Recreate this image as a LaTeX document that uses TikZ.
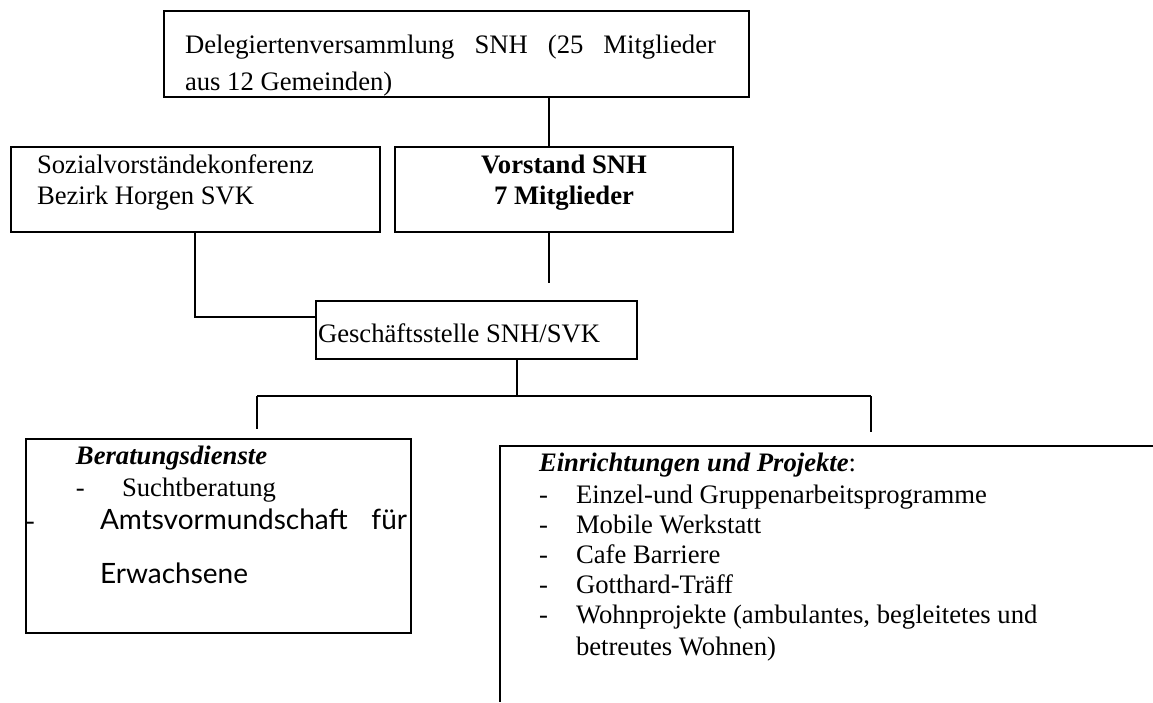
\documentclass[tikz,border=0pt]{standalone}
\usepackage{fontspec}
\setmainfont{Liberation Serif}
\newfontfamily\amtsfont{Lato}
\usetikzlibrary{fit}
\begin{document}
\begin{tikzpicture}[x=0.45pt,y=-0.45pt,
  box/.style={draw,line width=0.6pt,inner sep=0pt,outer sep=0pt},
  txt/.style={anchor=base west,inner sep=0pt,outer sep=0pt,font=\fontsize{12}{13.5}\selectfont},
  ctxt/.style={anchor=base,inner sep=0pt,outer sep=0pt,font=\fontsize{12}{13.5}\selectfont\bfseries},
  stxt/.style={anchor=base west,inner sep=0pt,outer sep=0pt,font=\fontsize{12.6}{14}\amtsfont},
  conn/.style={line width=0.6pt}]
\useasboundingbox (0,0) rectangle (1153,702);
% boxes
\node[box,fit={(164,11) (749,97)}] (top) {};
\node[box,fit={(395,147) (733,232)}] (vor) {};
\node[box,fit={(11,147) (380,232)}] (soz) {};
\node[box,fit={(316,301) (637,359)}] (ges) {};
\node[box,fit={(26,439) (411,633)}] (ber) {};
% open box Einrichtungen
\coordinate (eintr) at (1153,446);
\coordinate (eintl) at (500,446);
\coordinate (einbl) at (500,702);
\draw[conn] (eintr) -- (eintl) -- (einbl);
% texts
\node[txt] (t1) at (185,53) {\makebox[238.95pt][s]{Delegiertenversammlung SNH (25 Mitglieder}};
\node[txt] (t2) at (185,90) {aus 12 Gemeinden)};
\node[ctxt] (v1) at (564,173) {Vorstand SNH};
\node[ctxt] (v2) at (564,204) {7 Mitglieder};
\node[txt] (s1) at (37,173) {Sozialvorständekonferenz};
\node[txt] (s2) at (37,204) {Bezirk Horgen SVK};
\node[txt] (g1) at (318,342) {Geschäftsstelle SNH/SVK};
\node[txt] (b0) at (76,464) {\bfseries\itshape Beratungsdienste};
\node[txt] (b1d) at (76,496) {-};
\node[txt] (b1) at (122,496) {Suchtberatung};
\node[txt] (b2d) at (26,529) {-};
\node[stxt] (b2) at (100,529) {\makebox[138.15pt][s]{Amtsvormundschaft für}};
\node[stxt] (b3) at (100,583) {Erwachsene};
\node[txt] (e0) at (539,471) {\textbf{\textit{Einrichtungen und Projekte}}:};
\node[txt] (e1d) at (539,503) {-};
\node[txt] (e1) at (576,503) {Einzel-und Gruppenarbeitsprogramme};
\node[txt] (e2d) at (539,533) {-};
\node[txt] (e2) at (576,533) {Mobile Werkstatt};
\node[txt] (e3d) at (539,563) {-};
\node[txt] (e3) at (576,563) {Cafe Barriere};
\node[txt] (e4d) at (539,593) {-};
\node[txt] (e4) at (576,593) {Gotthard-Träff};
\node[txt] (e5d) at (539,623) {-};
\node[txt] (e5) at (576,623) {Wohnprojekte (ambulantes, begleitetes und};
\node[txt] (e6) at (576,655) {betreutes Wohnen)};
% connectors
\coordinate (c1) at (549,0);
\draw[conn] (top.south -| c1) -- (vor.north -| c1);
\coordinate (vend) at (549,283);
\draw[conn] (vor.south -| vend) -- (vend);
\coordinate (sozx) at (195,317);
\draw[conn] (soz.south -| sozx) |- (ges.west |- sozx);
\coordinate (bar) at (517,396);
\draw[conn] (ges.south -| bar) -- (bar);
\coordinate (bl) at (257,396);
\coordinate (br) at (871,396);
\draw[conn] (bl) -- (br);
\coordinate (ble) at (257,429);
\coordinate (bre) at (871,432);
\draw[conn] (bl) -- (ble);
\draw[conn] (br) -- (bre);
\end{tikzpicture}
\end{document}
